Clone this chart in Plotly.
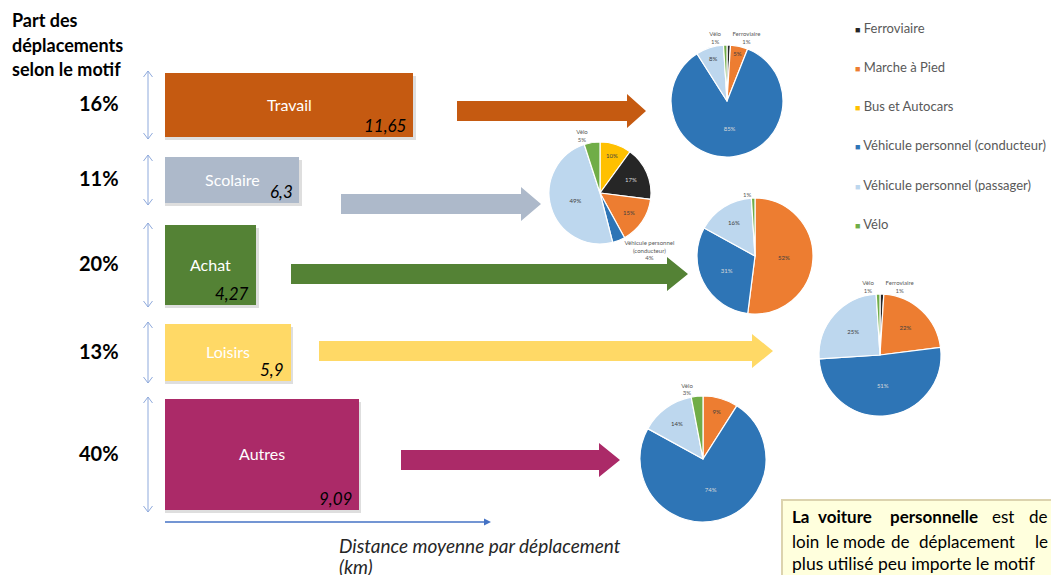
import plotly.graph_objects as go

W, H = 1051, 575
FONT = "Lato"

# ---------------- data ----------------
motifs = ["Travail", "Scolaire", "Achat", "Loisirs", "Autres"]
parts = ["16%", "11%", "20%", "13%", "40%"]
distances = [11.65, 6.3, 4.27, 5.9, 9.09]

modes = ["Ferroviaire", "Marche à Pied", "Bus et Autocars",
         "Véhicule personnel (conducteur)", "Véhicule personnel (passager)", "Vélo"]

travail_modes = ["Ferroviaire", "Marche à Pied", "Véhicule personnel (conducteur)",
                 "Véhicule personnel (passager)", "Vélo"]
travail_values = [1, 5, 85, 8, 1]

scolaire_modes = ["Bus et Autocars", "Ferroviaire", "Marche à Pied",
                  "Véhicule personnel (conducteur)", "Véhicule personnel (passager)", "Vélo"]
scolaire_values = [10, 17, 15, 4, 49, 5]

achat_modes = ["Marche à Pied", "Véhicule personnel (conducteur)",
               "Véhicule personnel (passager)", "Vélo"]
achat_values = [52, 31, 16, 1]

loisirs_modes = ["Ferroviaire", "Marche à Pied", "Véhicule personnel (conducteur)",
                 "Véhicule personnel (passager)", "Vélo"]
loisirs_values = [1, 22, 51, 25, 1]

autres_modes = ["Marche à Pied", "Véhicule personnel (conducteur)",
                "Véhicule personnel (passager)", "Vélo"]
autres_values = [9, 74, 14, 3]

# outside labels: mode -> displayed name ("" = percent only)
travail_outside = {"Ferroviaire": "Ferroviaire", "Vélo": "Vélo"}
scolaire_outside = {"Vélo": "Vélo", "Véhicule personnel (conducteur)": "Véhicule personnel<br>(conducteur)"}
achat_outside = {"Vélo": ""}
loisirs_outside = {"Ferroviaire": "Ferroviaire", "Vélo": "Vélo"}
autres_outside = {"Vélo": "Vélo"}

# justified note text: (word, x, anchor, bold)
note_line1 = [("La", 790, "left", True), ("voiture", 845, "center", True),
              ("personnelle", 934, "center", True), ("est", 1003, "center", False),
              ("de", 1050, "right", False)]
note_line2 = [("loin", 790, "left"), ("le", 832, "center"), ("mode", 864, "center"),
              ("de", 900, "center"), ("déplacement", 967, "center"), ("le", 1050, "right")]
note_line3 = "plus utilisé peu importe le motif"

# ---------------- styles / layout (pixels) ----------------
bar_colors = ["#C55A11", "#ADB9CA", "#548235", "#FFD966", "#AB2A68"]
mode_colors = {"Ferroviaire": "#262626", "Marche à Pied": "#ED7D31", "Bus et Autocars": "#FFC000",
               "Véhicule personnel (conducteur)": "#2E75B6",
               "Véhicule personnel (passager)": "#BDD7EE", "Vélo": "#70AD47"}
dark_modes = {"Ferroviaire", "Véhicule personnel (conducteur)"}

bar_left_px = 165
px_per_km = 21.3
bar_centers = [105, 180, 265, 352.5, 454.5]
bar_heights = [64, 46, 80, 57, 111]

arrow_geom = [  # x_start, x_shaft_end, x_tip, y_center
    (457, 627, 646, 111),
    (341, 521, 541, 204),
    (291, 667, 688, 274),
    (319, 752, 773, 351),
    (401, 599, 620, 460),
]
shaft_half, head_half = 10, 17

pie_centers = [(727, 101), (600, 193), (755, 256), (880, 355), (703, 459)]
pie_radii = [56, 51, 58, 61, 63]

legend_y = [28, 67, 106, 145, 185, 224]

fig = go.Figure()

# bar shadows
fig.add_trace(go.Bar(
    orientation="h", x=[d + 0.12 for d in distances], y=[c + 3 for c in bar_centers],
    width=bar_heights, base=0, marker=dict(color="rgba(0,0,0,0.13)", line=dict(width=0)),
    hoverinfo="skip", showlegend=False))

# bars
fig.add_trace(go.Bar(
    orientation="h", x=distances, y=bar_centers, width=bar_heights, base=0,
    marker=dict(color=bar_colors, line=dict(width=0)),
    customdata=motifs, hovertemplate="%{customdata}: %{x} km<extra></extra>",
    showlegend=False))

# pies
pies = [
    (travail_modes, travail_values, travail_outside),
    (scolaire_modes, scolaire_values, scolaire_outside),
    (achat_modes, achat_values, achat_outside),
    (loisirs_modes, loisirs_values, loisirs_outside),
    (autres_modes, autres_values, autres_outside),
]
for (labels, values, outside), (cx, cy), r, motif in zip(pies, pie_centers, pie_radii, motifs):
    texts, positions, tcolors = [], [], []
    for m, v in zip(labels, values):
        if m in outside:
            name = outside[m]
            texts.append((name + "<br>" if name else "") + f"{v}%")
            positions.append("outside")
        else:
            texts.append(f"{v}%")
            positions.append("inside")
        tcolors.append("#D9D9D9" if m in dark_modes else "#404040")
    fig.add_trace(go.Pie(
        labels=labels, values=values, text=texts, textinfo="text", textposition=positions,
        sort=False, direction="clockwise", rotation=0,
        marker=dict(colors=[mode_colors[m] for m in labels], line=dict(color="white", width=1.2)),
        insidetextfont=dict(family=FONT, size=6, color=tcolors),
        outsidetextfont=dict(family=FONT, size=6, color="#595959"),
        insidetextorientation="horizontal",
        domain=dict(x=[(cx - r) / W, (cx + r) / W], y=[1 - (cy + r) / H, 1 - (cy - r) / H]),
        name=motif, hovertemplate="%{label}: %{value}%<extra>" + motif + "</extra>",
        showlegend=False))

shapes = []
annotations = []

# thick arrows
for (x0, xs, xt, yc), col in zip(arrow_geom, bar_colors):
    path = (f"M{x0},{yc - shaft_half} L{xs},{yc - shaft_half} L{xs},{yc - head_half} "
            f"L{xt},{yc} L{xs},{yc + head_half} L{xs},{yc + shaft_half} L{x0},{yc + shaft_half} Z")
    shapes.append(dict(type="path", path=path, xref="x2", yref="y", fillcolor=col,
                       line=dict(width=0), layer="below"))

# vertical double arrows & bar labels
for i, (c, h) in enumerate(zip(bar_centers, bar_heights)):
    y1, y2 = c - h / 2 - 2, c + h / 2 + 2
    path = (f"M148,{y1} L148,{y2} M143.5,{y1 + 6} L148,{y1} L152.5,{y1 + 6} "
            f"M143.5,{y2 - 6} L148,{y2} L152.5,{y2 - 6}")
    shapes.append(dict(type="path", path=path, xref="x2", yref="y",
                       line=dict(color="#8FAADC", width=1)))
    annotations.append(dict(x=121, y=c - 2, xref="x2", yref="y", text=f"<b>{parts[i]}</b>",
                            showarrow=False, xanchor="right", yanchor="middle",
                            font=dict(family=FONT, size=20, color="#000000")))
    annotations.append(dict(x=distances[i] / 2, y=c - 1, xref="x", yref="y", text=motifs[i],
                            showarrow=False, xanchor="center", yanchor="middle",
                            font=dict(family=FONT, size=16, color="#FFFFFF")))
    annotations.append(dict(x=distances[i] - 0.22, y=c + h / 2 - 12, xref="x", yref="y",
                            text=f"<i>{distances[i]:g}</i>".replace(".", ","),
                            showarrow=False, xanchor="right", yanchor="middle",
                            font=dict(family=FONT, size=17, color="#000000")))

# horizontal axis arrow
shapes.append(dict(type="line", x0=165, x1=485, y0=522, y1=522, xref="x2", yref="y",
                   line=dict(color="#4472C4", width=1.3)))
shapes.append(dict(type="path", path="M484,518.5 L491,522 L484,525.5 Z", xref="x2", yref="y",
                   fillcolor="#4472C4", line=dict(width=0)))
annotations.append(dict(x=337, y=545, xref="x2", yref="y", text="<i>Distance moyenne par déplacement</i>",
                        showarrow=False, xanchor="left", yanchor="middle",
                        font=dict(family=FONT, size=19, color="#262626")))
annotations.append(dict(x=337, y=566, xref="x2", yref="y", text="<i>(km)</i>",
                        showarrow=False, xanchor="left", yanchor="middle",
                        font=dict(family=FONT, size=19, color="#262626")))

# title
for txt, yy in zip(["Part des", "déplacements", "selon le motif"], [20, 45, 69]):
    annotations.append(dict(x=10, y=yy, xref="x2", yref="y", text=f"<b>{txt}</b>",
                            showarrow=False, xanchor="left", yanchor="middle",
                            font=dict(family=FONT, size=18, color="#000000")))

# legend
for m, yy in zip(modes, legend_y):
    annotations.append(dict(x=853, y=yy, xref="x2", yref="y",
                            text=f"<span style='color:{mode_colors[m]};font-size:9px'>■</span> {m}",
                            showarrow=False, xanchor="left", yanchor="middle",
                            font=dict(family=FONT, size=13, color="#595959")))

# note box
shapes.append(dict(type="rect", x0=782, x1=1062, y0=500, y1=585, xref="x2", yref="y",
                   fillcolor="#FFFFDD", line=dict(color="#DCD3AE", width=2)))
for w, xx, anc, b in note_line1:
    annotations.append(dict(x=xx, y=516, xref="x2", yref="y", text=f"<b>{w}</b>" if b else w,
                            showarrow=False, xanchor=anc, yanchor="middle",
                            font=dict(family=FONT, size=17, color="#000000")))
for w, xx, anc in note_line2:
    annotations.append(dict(x=xx, y=541, xref="x2", yref="y", text=w,
                            showarrow=False, xanchor=anc, yanchor="middle",
                            font=dict(family=FONT, size=17, color="#000000")))
annotations.append(dict(x=790, y=563, xref="x2", yref="y", text=note_line3,
                        showarrow=False, xanchor="left", yanchor="middle",
                        font=dict(family=FONT, size=17.5, color="#000000")))

fig.update_layout(
    width=W, height=H, margin=dict(l=0, r=0, t=0, b=0),
    paper_bgcolor="white", plot_bgcolor="rgba(0,0,0,0)",
    barmode="overlay", bargap=0,
    font=dict(family=FONT),
    xaxis=dict(range=[-bar_left_px / px_per_km, (W - bar_left_px) / px_per_km],
               domain=[0, 1], visible=False, fixedrange=True),
    xaxis2=dict(range=[0, W], overlaying="x", visible=False, fixedrange=True),
    yaxis=dict(range=[H, 0], domain=[0, 1], visible=False, fixedrange=True),
    shapes=shapes, annotations=annotations,
)

fig.write_html("out.html", config={"displayModeBar": False},
               post_script="document.body.style.margin='0';document.body.style.overflow='hidden';")
